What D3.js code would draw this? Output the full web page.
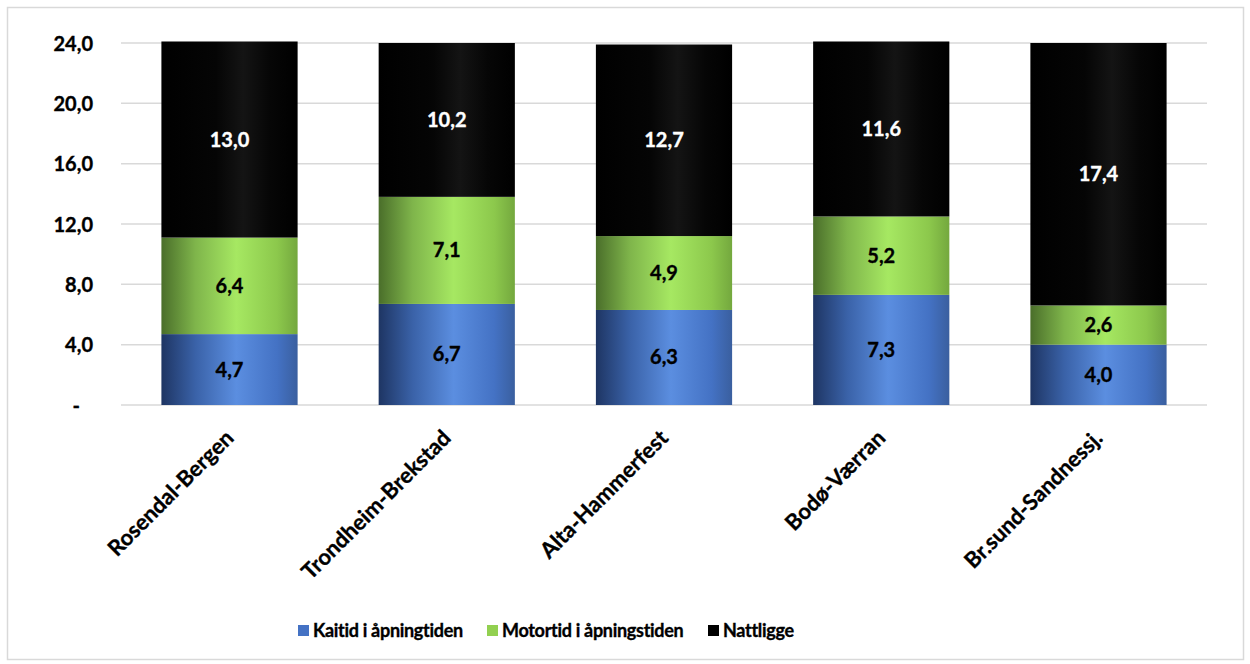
<!DOCTYPE html>
<html>
<head>
<meta charset="utf-8">
<script src="https://cdn.jsdelivr.net/npm/d3@7/dist/d3.min.js"></script>
<style>
  html, body { margin: 0; padding: 0; background: #fff; }
  svg { display: block; font-family: Lato, "Open Sans", sans-serif; font-weight: bold; }
  .heavy { stroke-width: 0.35px; paint-order: stroke; }
</style>
</head>
<body>
<svg id="chart" width="1250" height="664"></svg>
<script>
// Routes (categories)
const categories = ["Rosendal-Bergen", "Trondheim-Brekstad", "Alta-Hammerfest", "Bodø-Værran", "Br.sund-Sandnessj."];
// Hours per day for each component
const kaitid   = [4.7, 6.7, 6.3, 7.3, 4.0];
const motortid = [6.4, 7.1, 4.9, 5.2, 2.6];
const nattligge = [13.0, 10.2, 12.7, 11.6, 17.4];
const seriesNames = ["Kaitid i åpningtiden", "Motortid i åpningstiden", "Nattligge"];
const yTicks = [0, 4, 8, 12, 16, 20, 24];

const svg = d3.select("#chart");
const FONT = "Lato, 'Open Sans', sans-serif";

// outer frame
svg.append("rect").attr("x", 7.5).attr("y", 7.5).attr("width", 1236).attr("height", 652)
  .attr("fill", "#fff").attr("stroke", "#d9d9d9").attr("stroke-width", 1.5);

const plot = { left: 121, right: 1207, top: 43, bottom: 405 };

const x = d3.scaleBand().domain(categories).range([plot.left, plot.right]).paddingInner(0.373).paddingOuter(0.186);
const y = d3.scaleLinear().domain([0, 24]).range([plot.bottom, plot.top]);

// horizontal shading for the bar segments
const defs = svg.append("defs");
const gradSpecs = [
  { id: "g-blue",  stops: [["0%", "#1e3563"], ["25%", "#3a62a8"], ["55%", "#5b8ee0"], ["85%", "#4472c4"], ["100%", "#3a5f9f"]] },
  { id: "g-green", stops: [["0%", "#4a6e2a"], ["25%", "#7fb54b"], ["55%", "#a6e862"], ["85%", "#8cc84c"], ["100%", "#74a83e"]] },
  { id: "g-black", stops: [["0%", "#000000"], ["40%", "#050505"], ["60%", "#141414"], ["80%", "#060606"], ["100%", "#000000"]] }
];
gradSpecs.forEach(g => {
  const lg = defs.append("linearGradient").attr("id", g.id).attr("x1", "0%").attr("x2", "100%").attr("y1", "0%").attr("y2", "0%");
  g.stops.forEach(s => lg.append("stop").attr("offset", s[0]).attr("stop-color", s[1]));
});
const fills = ["url(#g-blue)", "url(#g-green)", "url(#g-black)"];
const legendColors = ["#4472c4", "#92d050", "#000000"];
const labelColors = ["#000", "#000", "#fff"];

// gridlines
svg.append("g").selectAll("line").data(yTicks).join("line")
  .attr("x1", plot.left).attr("x2", plot.right)
  .attr("y1", d => y(d)).attr("y2", d => y(d))
  .attr("stroke", "#d9d9d9").attr("stroke-width", 1.5);

// y axis labels
const fmt = v => v === 0 ? "-" : v.toFixed(1).replace(".", ",");
const yAxis = d3.axisLeft(y).tickValues(yTicks).tickFormat(fmt).tickSize(0).tickPadding(0);
const yg = svg.append("g").attr("transform", `translate(93,0)`).call(yAxis);
yg.select(".domain").remove();
yg.selectAll("text").attr("class", "heavy").attr("stroke", "#000")
  .attr("font-size", 20).attr("font-weight", "bold").attr("fill", "#000")
  .attr("font-family", FONT).attr("dy", "0.35em")
  .attr("dx", d => d === 0 ? -13 : 0);

// stacked data
const rows = categories.map((c, i) => ({ cat: c, s0: kaitid[i], s1: motortid[i], s2: nattligge[i] }));
const stack = d3.stack().keys(["s0", "s1", "s2"]);
const layers = stack(rows);

layers.forEach((layer, li) => {
  const g = svg.append("g");
  g.selectAll("rect").data(layer).join("rect")
    .attr("x", d => x(d.data.cat))
    .attr("width", x.bandwidth())
    .attr("y", d => y(d[1]))
    .attr("height", d => y(d[0]) - y(d[1]))
    .attr("fill", fills[li]);
  g.selectAll("text").data(layer).join("text")
    .attr("class", "heavy")
    .attr("x", d => x(d.data.cat) + x.bandwidth() / 2)
    .attr("y", d => (y(d[0]) + y(d[1])) / 2)
    .attr("dy", "0.35em")
    .attr("text-anchor", "middle")
    .attr("font-size", 20)
    .attr("fill", labelColors[li])
    .attr("stroke", labelColors[li])
    .text(d => fmt(d[1] - d[0] + 1e-9));
});

// category labels, rotated
const xAxis = d3.axisBottom(x).tickSize(0).tickPadding(0);
const xg = svg.append("g").attr("transform", `translate(0,${plot.bottom})`).call(xAxis);
xg.select(".domain").remove();
xg.selectAll("text")
  .attr("class", "heavy").attr("stroke", "#000")
  .attr("font-size", 22).attr("font-weight", "bold").attr("fill", "#000")
  .attr("font-family", FONT)
  .attr("text-anchor", "end")
  .attr("dy", "0.35em")
  .attr("transform", "translate(0,29) rotate(-45)");

// legend
const legendX = [298, 487, 708];
const lg = svg.append("g");
seriesNames.forEach((n, i) => {
  lg.append("rect").attr("x", legendX[i]).attr("y", 625).attr("width", 11).attr("height", 11).attr("fill", legendColors[i]);
  lg.append("text").attr("class", "heavy").attr("stroke", "#000")
    .attr("x", legendX[i] + 15).attr("y", 631).attr("dy", "0.35em")
    .attr("font-size", 18).attr("letter-spacing", -0.3).attr("fill", "#000").text(n);
});
</script>
</body>
</html>
